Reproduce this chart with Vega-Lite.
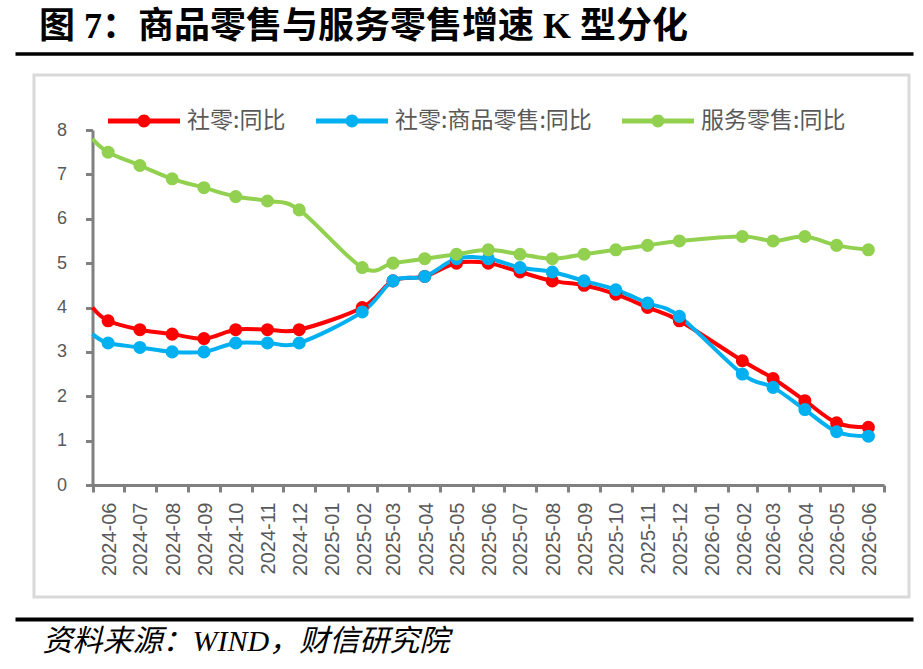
{
  "$schema": "https://vega.github.io/schema/vega-lite/v6.json",
  "autosize": "none",
  "width": 875,
  "height": 522,
  "padding": {"left": 34, "top": 75, "right": 14, "bottom": 72},
  "background": "white",
  "title": {
    "text": "图 7：商品零售与服务零售增速 K 型分化",
    "anchor": "start",
    "frame": "group",
    "dx": 5,
    "offset": 8,
    "font": "Liberation Serif, Noto Sans CJK SC",
    "fontSize": 36,
    "fontWeight": "bold",
    "color": "black"
  },
  "data": {
    "values": [
      {"series": "社零:同比", "month": "2024-05", "value": 4.0},
      {"series": "社零:同比", "month": "2024-06", "value": 3.7},
      {"series": "社零:同比", "month": "2024-07", "value": 3.5},
      {"series": "社零:同比", "month": "2024-08", "value": 3.4},
      {"series": "社零:同比", "month": "2024-09", "value": 3.3},
      {"series": "社零:同比", "month": "2024-10", "value": 3.5},
      {"series": "社零:同比", "month": "2024-11", "value": 3.5},
      {"series": "社零:同比", "month": "2024-12", "value": 3.5},
      {"series": "社零:同比", "month": "2025-02", "value": 4.0},
      {"series": "社零:同比", "month": "2025-03", "value": 4.6},
      {"series": "社零:同比", "month": "2025-04", "value": 4.7},
      {"series": "社零:同比", "month": "2025-05", "value": 5.0},
      {"series": "社零:同比", "month": "2025-06", "value": 5.0},
      {"series": "社零:同比", "month": "2025-07", "value": 4.8},
      {"series": "社零:同比", "month": "2025-08", "value": 4.6},
      {"series": "社零:同比", "month": "2025-09", "value": 4.5},
      {"series": "社零:同比", "month": "2025-10", "value": 4.3},
      {"series": "社零:同比", "month": "2025-11", "value": 4.0},
      {"series": "社零:同比", "month": "2025-12", "value": 3.7},
      {"series": "社零:同比", "month": "2026-02", "value": 2.8},
      {"series": "社零:同比", "month": "2026-03", "value": 2.4},
      {"series": "社零:同比", "month": "2026-04", "value": 1.9},
      {"series": "社零:同比", "month": "2026-05", "value": 1.4},
      {"series": "社零:同比", "month": "2026-06", "value": 1.3},
      {"series": "社零:商品零售:同比", "month": "2024-05", "value": 3.4},
      {"series": "社零:商品零售:同比", "month": "2024-06", "value": 3.2},
      {"series": "社零:商品零售:同比", "month": "2024-07", "value": 3.1},
      {"series": "社零:商品零售:同比", "month": "2024-08", "value": 3.0},
      {"series": "社零:商品零售:同比", "month": "2024-09", "value": 3.0},
      {"series": "社零:商品零售:同比", "month": "2024-10", "value": 3.2},
      {"series": "社零:商品零售:同比", "month": "2024-11", "value": 3.2},
      {"series": "社零:商品零售:同比", "month": "2024-12", "value": 3.2},
      {"series": "社零:商品零售:同比", "month": "2025-02", "value": 3.9},
      {"series": "社零:商品零售:同比", "month": "2025-03", "value": 4.6},
      {"series": "社零:商品零售:同比", "month": "2025-04", "value": 4.7},
      {"series": "社零:商品零售:同比", "month": "2025-05", "value": 5.1},
      {"series": "社零:商品零售:同比", "month": "2025-06", "value": 5.1},
      {"series": "社零:商品零售:同比", "month": "2025-07", "value": 4.9},
      {"series": "社零:商品零售:同比", "month": "2025-08", "value": 4.8},
      {"series": "社零:商品零售:同比", "month": "2025-09", "value": 4.6},
      {"series": "社零:商品零售:同比", "month": "2025-10", "value": 4.4},
      {"series": "社零:商品零售:同比", "month": "2025-11", "value": 4.1},
      {"series": "社零:商品零售:同比", "month": "2025-12", "value": 3.8},
      {"series": "社零:商品零售:同比", "month": "2026-02", "value": 2.5},
      {"series": "社零:商品零售:同比", "month": "2026-03", "value": 2.2},
      {"series": "社零:商品零售:同比", "month": "2026-04", "value": 1.7},
      {"series": "社零:商品零售:同比", "month": "2026-05", "value": 1.2},
      {"series": "社零:商品零售:同比", "month": "2026-06", "value": 1.1},
      {"series": "服务零售:同比", "month": "2024-05", "value": 7.8},
      {"series": "服务零售:同比", "month": "2024-06", "value": 7.5},
      {"series": "服务零售:同比", "month": "2024-07", "value": 7.2},
      {"series": "服务零售:同比", "month": "2024-08", "value": 6.9},
      {"series": "服务零售:同比", "month": "2024-09", "value": 6.7},
      {"series": "服务零售:同比", "month": "2024-10", "value": 6.5},
      {"series": "服务零售:同比", "month": "2024-11", "value": 6.4},
      {"series": "服务零售:同比", "month": "2024-12", "value": 6.2},
      {"series": "服务零售:同比", "month": "2025-02", "value": 4.9},
      {"series": "服务零售:同比", "month": "2025-03", "value": 5.0},
      {"series": "服务零售:同比", "month": "2025-04", "value": 5.1},
      {"series": "服务零售:同比", "month": "2025-05", "value": 5.2},
      {"series": "服务零售:同比", "month": "2025-06", "value": 5.3},
      {"series": "服务零售:同比", "month": "2025-07", "value": 5.2},
      {"series": "服务零售:同比", "month": "2025-08", "value": 5.1},
      {"series": "服务零售:同比", "month": "2025-09", "value": 5.2},
      {"series": "服务零售:同比", "month": "2025-10", "value": 5.3},
      {"series": "服务零售:同比", "month": "2025-11", "value": 5.4},
      {"series": "服务零售:同比", "month": "2025-12", "value": 5.5},
      {"series": "服务零售:同比", "month": "2026-02", "value": 5.6},
      {"series": "服务零售:同比", "month": "2026-03", "value": 5.5},
      {"series": "服务零售:同比", "month": "2026-04", "value": 5.6},
      {"series": "服务零售:同比", "month": "2026-05", "value": 5.4},
      {"series": "服务零售:同比", "month": "2026-06", "value": 5.3}
    ]
  },
  "layer": [
    {
      "encoding": {
        "x": {
          "field": "month",
          "type": "temporal",
          "timeUnit": "utcyearmonth",
          "bandPosition": 0.5,
          "scale": {
            "type": "utc",
            "domain": [
              {"year": 2024, "month": 6, "date": 1, "utc": true},
              {"year": 2026, "month": 7, "date": 1, "utc": true}
            ],
            "range": [58.5, 850],
            "clamp": true,
            "nice": false
          },
          "axis": {
            "orient": "bottom",
            "offset": -112,
            "title": null,
            "grid": false,
            "tickCount": {"interval": "month", "step": 1},
            "domainColor": "#808080",
            "domainWidth": 3,
            "tickColor": "#808080",
            "tickWidth": 3,
            "tickSize": 7,
            "labelAngle": -90,
            "labelOffset": 17,
            "labelPadding": 10,
            "labelFont": "Liberation Sans",
            "labelFontSize": 20,
            "labelColor": "#595959",
            "labelOverlap": false,
            "labelFlush": false,
            "labelBound": false,
            "labelExpr": "utcFormat(datum.value, '%Y-%m') == '2026-07' ? '' : utcFormat(datum.value, '%Y-%m')"
          }
        },
        "y": {
          "field": "value",
          "type": "quantitative",
          "scale": {"domain": [0, 8], "range": [410, 55], "nice": false},
          "axis": {
            "orient": "left",
            "offset": -58.5,
            "title": null,
            "grid": false,
            "values": [0, 1, 2, 3, 4, 5, 6, 7, 8],
            "domainColor": "#808080",
            "domainWidth": 3,
            "tickColor": "#808080",
            "tickWidth": 3,
            "tickSize": 7,
            "labelFont": "Liberation Sans",
            "labelFontSize": 18,
            "labelColor": "#595959",
            "labelPadding": 19
          }
        }
      },
      "layer": [
        {
          "mark": {"type": "line", "strokeWidth": 4, "interpolate": "cardinal", "tension": 0},
          "encoding": {
            "stroke": {
              "field": "series",
              "type": "nominal",
              "scale": {
                "domain": ["服务零售:同比", "社零:同比", "社零:商品零售:同比"],
                "range": ["#92D050", "#FF0000", "#00B0F0"]
              },
              "legend": null
            }
          }
        },
        {
          "transform": [
            {"filter": "utcyear(datum.month) > 2024 || utcmonth(datum.month) >= 5"}
          ],
          "mark": {"type": "point", "shape": "circle", "filled": true, "size": 170, "opacity": 1, "strokeWidth": 0},
          "encoding": {
            "fill": {
              "field": "series",
              "type": "nominal",
              "scale": {
                "domain": ["社零:同比", "社零:商品零售:同比", "服务零售:同比"],
                "range": ["#FF0000", "#00B0F0", "#92D050"]
              },
              "legend": {
                "orient": "none",
                "legendX": 74,
                "legendY": 10,
                "direction": "horizontal",
                "title": null,
                "padding": 0,
                "symbolType": "M-1,-0.07L1,-0.07L1,0.07L-1,0.07Z M0.18,0A0.18,0.18,0,1,1,-0.18,0A0.18,0.18,0,1,1,0.18,0Z",
                "symbolSize": 5184,
                "symbolStrokeWidth": 0,
                "symbolOpacity": 1,
                "labelFont": "Noto Sans CJK SC",
                "labelFontSize": 23,
                "labelColor": "#595959",
                "labelOffset": 7,
                "labelLimit": 0,
                "columnPadding": 30
              }
            }
          }
        }
      ]
    },
    {
      "mark": {"type": "point", "opacity": 0},
      "encoding": {
        "x": {
          "field": "month",
          "type": "temporal",
          "scale": {"range": [-19, 879]},
          "axis": {
            "orient": "top",
            "offset": 21.5,
            "title": null,
            "grid": false,
            "labels": false,
            "ticks": false,
            "domainColor": "black",
            "domainWidth": 3.5
          }
        }
      }
    },
    {
      "mark": {"type": "point", "opacity": 0},
      "encoding": {
        "x": {
          "field": "month",
          "type": "temporal",
          "scale": {"range": [-19, 879]},
          "axis": {
            "orient": "bottom",
            "offset": 22,
            "grid": false,
            "labels": false,
            "ticks": false,
            "domainColor": "black",
            "domainWidth": 4,
            "title": "资料来源：WIND，财信研究院",
            "titleFont": "Liberation Serif, Noto Sans CJK SC",
            "titleFontStyle": "italic",
            "titleFontWeight": "normal",
            "titleFontSize": 30,
            "titleColor": "black",
            "titleAlign": "left",
            "titleBaseline": "middle",
            "titleX": 8,
            "titleY": 22
          }
        }
      }
    }
  ],
  "resolve": {"scale": {"x": "independent"}, "axis": {"x": "independent"}},
  "config": {
    "view": {"stroke": "#D9D9D9", "strokeWidth": 3},
    "axis": {"grid": false}
  }
}
